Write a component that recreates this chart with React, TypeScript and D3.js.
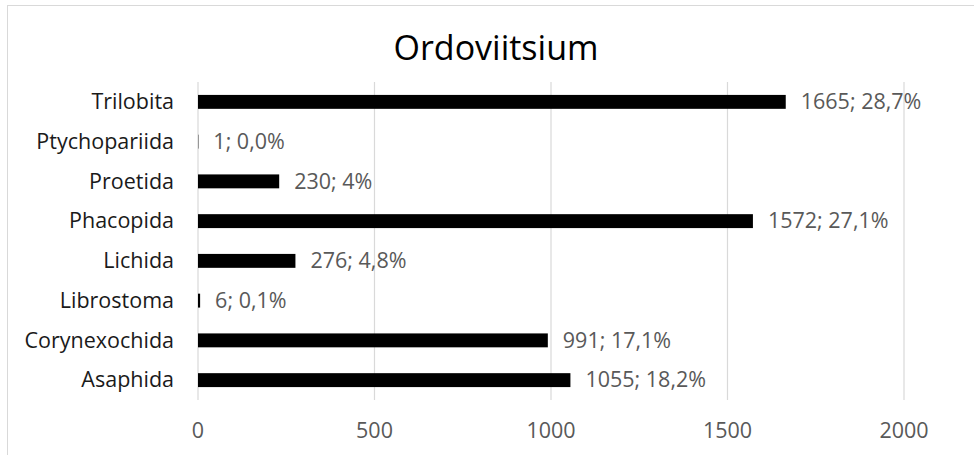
import React from "react";
import * as d3 from "d3";

const categories = ["Trilobita", "Ptychopariida", "Proetida", "Phacopida", "Lichida", "Librostoma", "Corynexochida", "Asaphida"];
const values = [1665, 1, 230, 1572, 276, 6, 991, 1055];
const percents = ["28,7%", "0,0%", "4%", "27,1%", "4,8%", "0,1%", "17,1%", "18,2%"];
const ticks = [0, 500, 1000, 1500, 2000];
const title = "Ordoviitsium";

const W = 974;
const H = 455;
const FONT = "'Open Sans', sans-serif";
const FS = 21.5;

export default function App() {
  const x = d3.scaleLinear().domain([0, 2000]).range([198, 904]);
  const y = d3.scaleBand<string>().domain(categories).range([82, 400]).paddingInner(0.65).paddingOuter(0.325);
  return (
    <div style={{ position: "absolute", left: 0, top: 0 }}>
      <svg width={W} height={H} style={{ display: "block", fontFamily: FONT }}>
        <rect x={0} y={0} width={W} height={H} fill="#fff" />
        <rect x={7.5} y={5.5} width={W + 20} height={H + 20} fill="none" stroke="#d9d9d9" strokeWidth={1} />
        <text x={496} y={60} textAnchor="middle" fontSize={34} fill="#000">{title}</text>
        {ticks.map((t) => (
          <g key={t}>
            <line x1={x(t)} x2={x(t)} y1={82} y2={400} stroke="#d9d9d9" strokeWidth={1.2} />
            <text x={x(t)} y={438} textAnchor="middle" fontSize={FS} fill="#595959">{t}</text>
          </g>
        ))}
        {categories.map((c, i) => {
          const yc = (y(c) as number) + y.bandwidth() / 2;
          return (
            <g key={c}>
              <rect x={x(0)} y={y(c)} width={x(values[i]) - x(0)} height={y.bandwidth()} fill="#000" />
              <text x={174} y={yc} dy="0.34em" textAnchor="end" fontSize={FS} fill="#1a1a1a">{c}</text>
              <text x={x(values[i]) + 15} y={yc} dy="0.34em" fontSize={FS} fill="#595959">{`${values[i]}; ${percents[i]}`}</text>
            </g>
          );
        })}
      </svg>
    </div>
  );
}
